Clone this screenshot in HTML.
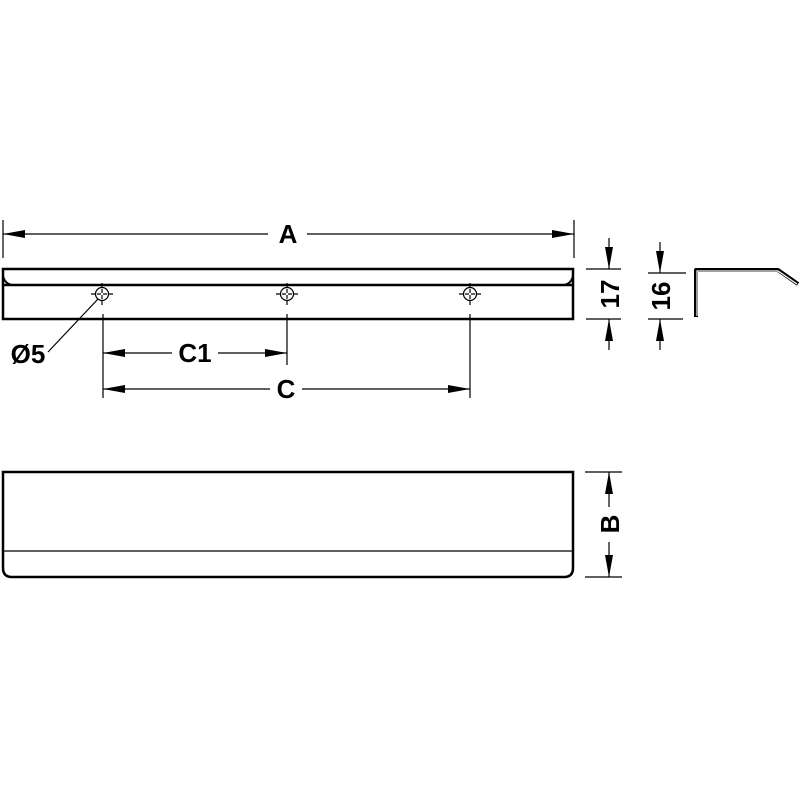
<!DOCTYPE html>
<html><head><style>body{margin:0;background:#fff}svg{display:block}</style></head><body>
<svg width="800" height="800" viewBox="0 0 800 800" xmlns="http://www.w3.org/2000/svg" font-family="Liberation Sans, sans-serif" font-weight="bold">
<defs>
<marker id="ar" viewBox="0 0 22 8" refX="22" refY="4" markerWidth="22" markerHeight="8" markerUnits="userSpaceOnUse" orient="auto-start-reverse"><path d="M0,0L22,4L0,8z" fill="#000"/></marker>
</defs>
<g stroke="#000" fill="none">
<line x1="3" y1="220" x2="3" y2="258" stroke-width="1.2"/>
<line x1="574" y1="220" x2="574" y2="258" stroke-width="1.2"/>
<line x1="3" y1="234" x2="268" y2="234" stroke-width="1.2" marker-start="url(#ar)"/>
<line x1="307" y1="234" x2="574" y2="234" stroke-width="1.2" marker-end="url(#ar)"/>
<rect x="3" y="269" width="570" height="50" stroke-width="2.5"/>
<line x1="3" y1="285" x2="573" y2="285" stroke-width="2.5"/>
<path d="M3,276 Q5,284 12,285" stroke-width="2"/>
<path d="M573,276 Q571,284 564,285" stroke-width="2"/>
<g stroke-width="1.2">
<circle cx="102" cy="294" r="6.5"/><line x1="91" y1="294" x2="113" y2="294" stroke-dasharray="4,2"/><line x1="102" y1="283" x2="102" y2="305" stroke-dasharray="4,2"/>
<circle cx="287" cy="294" r="6.5"/><line x1="276" y1="294" x2="298" y2="294" stroke-dasharray="4,2"/><line x1="287" y1="283" x2="287" y2="305" stroke-dasharray="4,2"/>
<circle cx="470" cy="294" r="6.5"/><line x1="459" y1="294" x2="481" y2="294" stroke-dasharray="4,2"/><line x1="470" y1="283" x2="470" y2="305" stroke-dasharray="4,2"/>
</g>
<line x1="48" y1="352" x2="98" y2="299" stroke-width="1.2"/>
<line x1="103" y1="314" x2="103" y2="398" stroke-width="1.2"/>
<line x1="287" y1="314" x2="287" y2="365" stroke-width="1.2"/>
<line x1="470" y1="314" x2="470" y2="398" stroke-width="1.2"/>
<line x1="103" y1="353" x2="172" y2="353" stroke-width="1.2" marker-start="url(#ar)"/>
<line x1="218" y1="353" x2="287" y2="353" stroke-width="1.2" marker-end="url(#ar)"/>
<line x1="103" y1="389" x2="270" y2="389" stroke-width="1.2" marker-start="url(#ar)"/>
<line x1="302" y1="389" x2="470" y2="389" stroke-width="1.2" marker-end="url(#ar)"/>
<line x1="586" y1="269" x2="621" y2="269" stroke-width="1.2"/>
<line x1="586" y1="319" x2="621" y2="319" stroke-width="1.2"/>
<line x1="609" y1="238" x2="609" y2="269" stroke-width="1.2" marker-end="url(#ar)"/>
<line x1="609" y1="350" x2="609" y2="319" stroke-width="1.2" marker-end="url(#ar)"/>
<line x1="648" y1="273" x2="686" y2="273" stroke-width="1.2"/>
<line x1="648" y1="319" x2="683" y2="319" stroke-width="1.2"/>
<line x1="660" y1="242" x2="660" y2="273" stroke-width="1.2" marker-end="url(#ar)"/>
<line x1="660" y1="350" x2="660" y2="319" stroke-width="1.2" marker-end="url(#ar)"/>
<path d="M696,317 L696,270 L778,270 L798,284" stroke-width="4" stroke-linejoin="round"/>
<path d="M697,316 L697,271 L778,271 L797,284" stroke="#fff" stroke-width="1.2" stroke-linejoin="round"/>
<path d="M3,472 L573,472 L573,568 Q573,577 564,577 L12,577 Q3,577 3,568 Z" stroke-width="2.5"/>
<line x1="3" y1="551" x2="573" y2="551" stroke-width="1.2"/>
<line x1="585" y1="472" x2="622" y2="472" stroke-width="1.2"/>
<line x1="585" y1="577" x2="622" y2="577" stroke-width="1.2"/>
<line x1="609" y1="507" x2="609" y2="472" stroke-width="1.2" marker-end="url(#ar)"/>
<line x1="609" y1="542" x2="609" y2="577" stroke-width="1.2" marker-end="url(#ar)"/>
</g>
<g font-size="26" text-anchor="middle" fill="#000">
<text x="288" y="243">A</text>
<text x="195" y="362">C1</text>
<text x="286" y="398">C</text>
<text x="28" y="363">Ø5</text>
<text transform="translate(619,294) rotate(-90)">17</text>
<text transform="translate(670,296) rotate(-90)">16</text>
<text transform="translate(619,524) rotate(-90)">B</text>
</g>
</svg>
</body></html>
